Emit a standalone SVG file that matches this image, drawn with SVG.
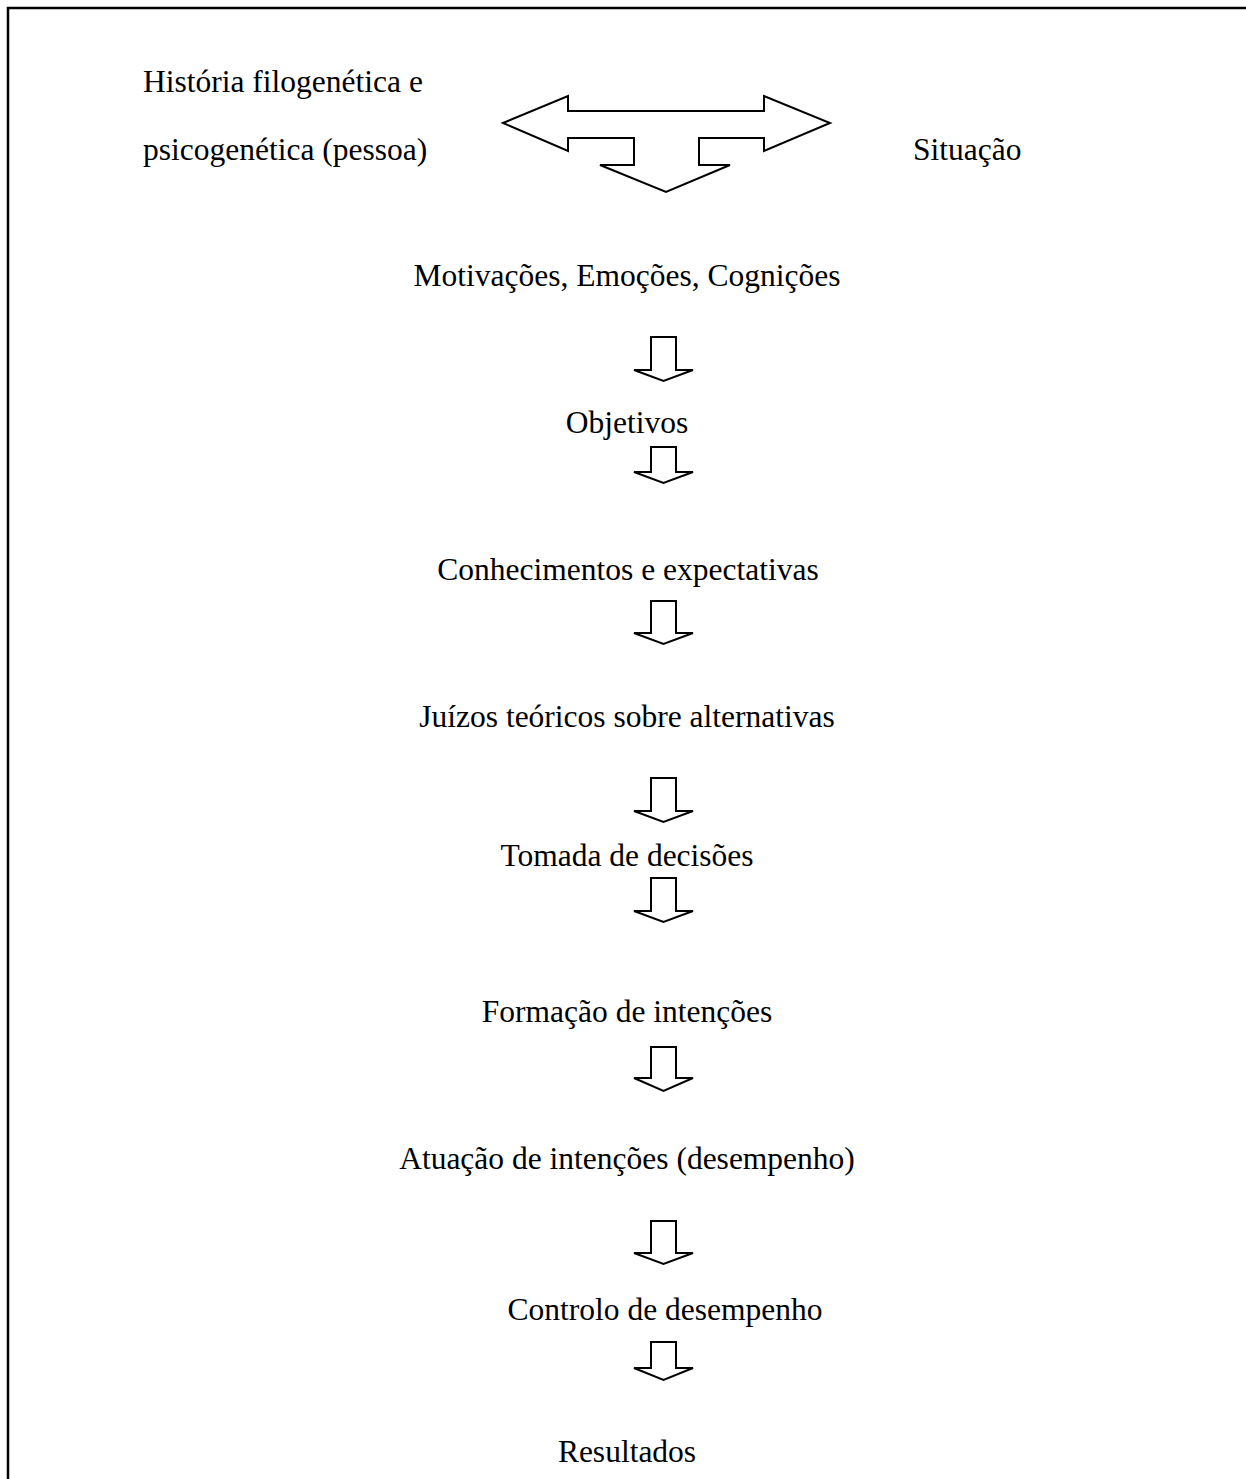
<svg xmlns="http://www.w3.org/2000/svg" width="1246" height="1479" viewBox="0 0 1246 1479">
<style>
.t{font-family:"Liberation Serif","Times New Roman",serif;font-size:31.5px;fill:#000}
.c{text-anchor:middle}
.a{fill:#fff;stroke:#000;stroke-width:2;stroke-linejoin:miter}
.b{fill:none;stroke:#000;stroke-width:2.5}
</style>
<rect width="1246" height="1479" fill="#fff"/>
<path class="b" d="M8,1479 V8 H1246"/>
<g id="pessoa"><text class="t" x="143" y="92">História filogenética e</text><text class="t" x="143" y="160">psicogenética (pessoa)</text></g>
<g id="situacao"><text class="t" x="913" y="160">Situação</text></g>
<g id="motivacoes"><text class="t c" x="627" y="286">Motivações, Emoções, Cognições</text></g>
<g id="objetivos"><text class="t c" x="627" y="433">Objetivos</text></g>
<g id="conhecimentos"><text class="t c" x="628" y="580">Conhecimentos e expectativas</text></g>
<g id="juizos"><text class="t c" x="627" y="727">Juízos teóricos sobre alternativas</text></g>
<g id="tomada"><text class="t c" x="627" y="866">Tomada de decisões</text></g>
<g id="formacao"><text class="t c" x="627" y="1022">Formação de intenções</text></g>
<g id="atuacao"><text class="t c" x="627" y="1169">Atuação de intenções (desempenho)</text></g>
<g id="controlo"><text class="t c" x="665" y="1320">Controlo de desempenho</text></g>
<g id="resultados"><text class="t c" x="627" y="1462">Resultados</text></g>
<g id="connectors">
<polygon class="a" points="503,123 568,96 568,111 764,111 764,96 830,123 764,151 764,138 699,138 699,165 730,165 666,192 600,165 634,165 634,138 568,138 568,151"/>
<polygon class="a" points="651,337 676,337 676,370 693,370 663.5,381 634,370 651,370"/>
<polygon class="a" points="651,447 676,447 676,472 693,472 663.5,483 634,472 651,472"/>
<polygon class="a" points="651,601 676,601 676,633 693,633 663.5,644 634,633 651,633"/>
<polygon class="a" points="651,778 676,778 676,811 693,811 663.5,822 634,811 651,811"/>
<polygon class="a" points="651,878 676,878 676,911 693,911 663.5,922 634,911 651,911"/>
<polygon class="a" points="651,1047 676,1047 676,1078 693,1078 663.5,1091 634,1078 651,1078"/>
<polygon class="a" points="651,1221 676,1221 676,1253 693,1253 663.5,1264 634,1253 651,1253"/>
<polygon class="a" points="651,1342 676,1342 676,1368 693,1368 663.5,1380 634,1368 651,1368"/>
</g>
</svg>
